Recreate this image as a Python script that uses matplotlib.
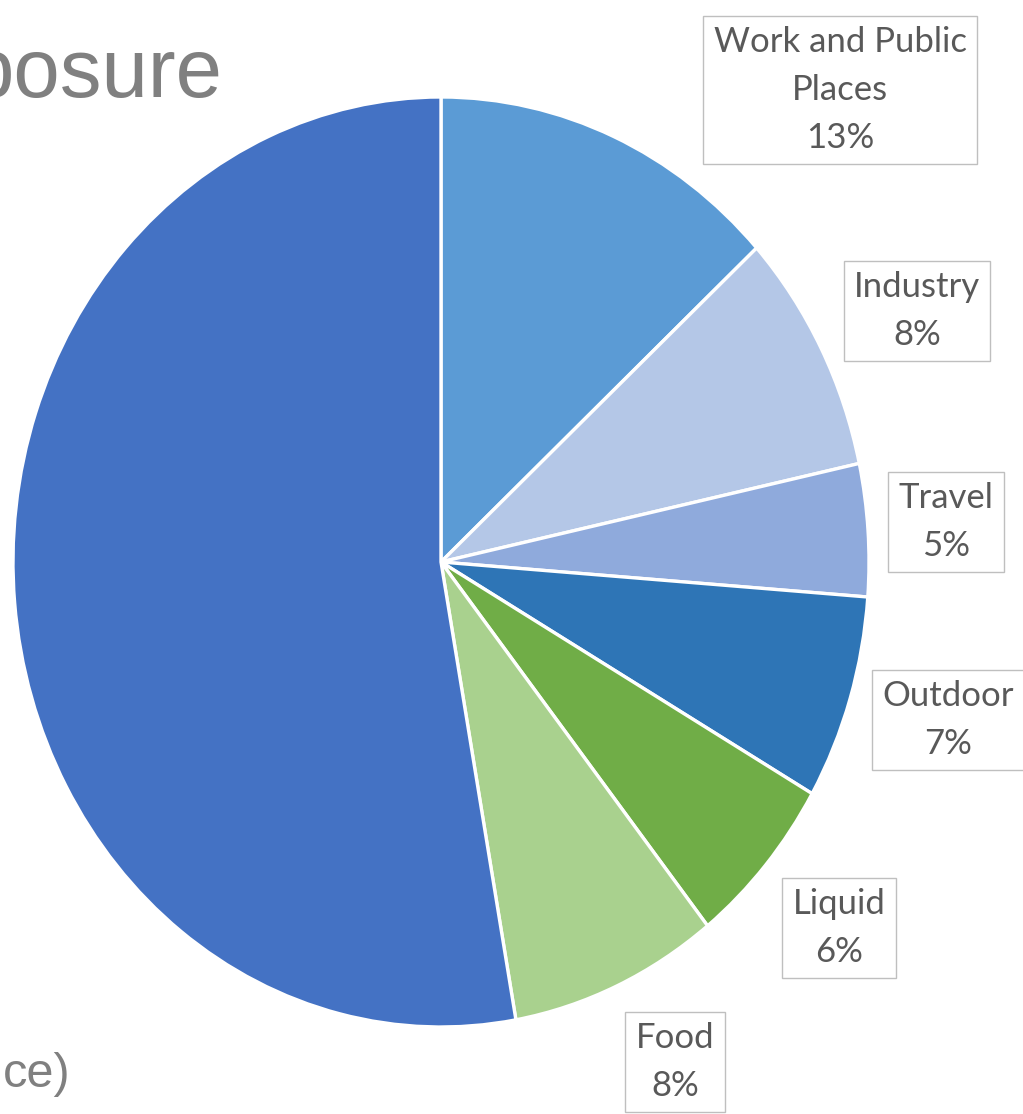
import matplotlib.pyplot as plt

labels = ['Work and Public\nPlaces', 'Industry', 'Travel', 'Outdoor', 'Liquid', 'Food', 'Home']
# slice sizes as measured from the wedge angles; label text shows rounded values
shares = [13.2, 8.4, 4.6, 7.1, 6.0, 7.9, 52.8]
shown_pct = ['13%', '8%', '5%', '7%', '6%', '8%', '']
colors = ['#5B9BD5', '#B4C7E7', '#8FAADC', '#2E75B6', '#70AD47', '#A9D18E', '#4472C4']
show_label = [True, True, True, True, True, True, False]

# label box centres in image pixels (x, y from top)
label_pos = [(840, 90), (917, 311), (946, 522), (948, 720), (839, 928), (675, 1062), (0, 0)]

W, H = 1023, 1114
fig = plt.figure(figsize=(W / 100, H / 100), dpi=100)

# pie is drawn slightly stretched vertically, as in the picture
cx, cy, rx, ry = 441, 562, 428, 465
ax = fig.add_axes([(cx - rx) / W, 1 - (cy + ry) / H, 2 * rx / W, 2 * ry / H])
ax.pie(shares, colors=colors, startangle=90, counterclock=False,
       wedgeprops=dict(edgecolor='white', linewidth=2.4))
ax.set_aspect('auto')
ax.set_xlim(-1, 1)
ax.set_ylim(-1, 1)
ax.axis('off')

for lab, pct, (px, py), show in zip(labels, shown_pct, label_pos, show_label):
    if not show:
        continue
    fig.text(px / W, 1 - py / H, f'{lab}\n{pct}', ha='center', va='center',
             fontsize=25, family='Lato', color='#595959', linespacing=1.6,
             bbox=dict(boxstyle='square,pad=0.3', fc='white', ec='#bfbfbf', lw=1))

# slide text partly hidden behind the chart crop
fig.text(223 / W, 1 - 97 / H, 'posure', ha='right', va='baseline',
         fontsize=60, family='Liberation Sans', color='#808080')
fig.text(3 / W, 1 - 1087 / H, 'ce)', ha='left', va='baseline',
         fontsize=35, family='Liberation Sans', color='#808080')

fig.savefig('out.png', dpi=100)
